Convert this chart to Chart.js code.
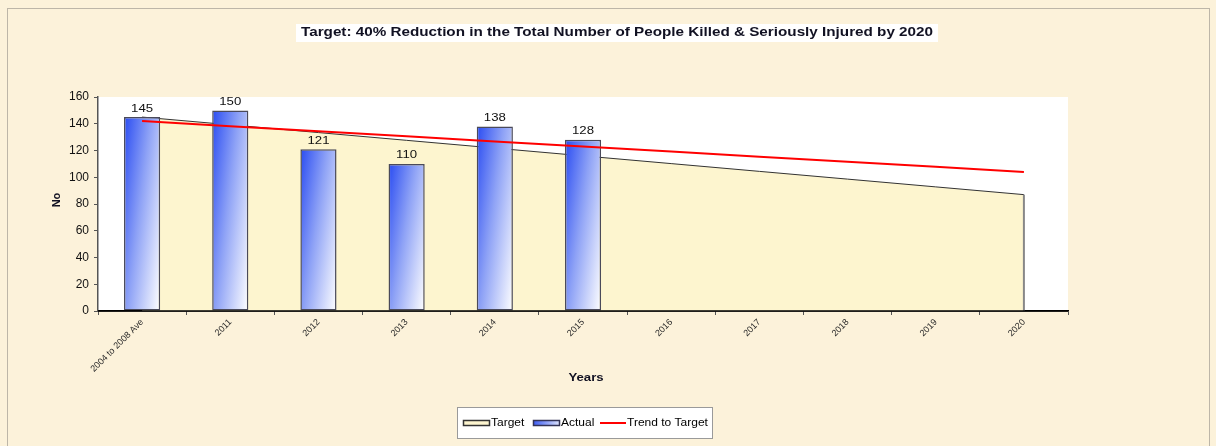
<!DOCTYPE html>
<html>
<head>
<meta charset="utf-8">
<script src="https://cdn.jsdelivr.net/npm/chart.js@4/dist/chart.umd.min.js"></script>
<style>
html,body{margin:0;padding:0;background:#fcf2da;}
#wrap{position:relative;width:1216px;height:446px;}
</style>
</head>
<body>
<div id="wrap"><canvas id="c" width="1216" height="446"></canvas></div>
<script>
const categories = ['2004 to 2008 Ave','2011','2012','2013','2014','2015','2016','2017','2018','2019','2020'];
const actual = [145, 150, 121, 110, 138, 128, null, null, null, null, null];
const target = [145, 139.2, 133.4, 127.6, 121.8, 116, 110.2, 104.4, 98.6, 92.8, 87];
const trend = [142, 138.2, 134.4, 130.6, 126.8, 123, 119.2, 115.4, 111.6, 107.8, 104];
const yTicks = [0, 20, 40, 60, 80, 100, 120, 140, 160];
const titleText = 'Target: 40% Reduction in the Total Number of People Killed & Seriously Injured by 2020';
const FONT = '"Liberation Sans", Arial, sans-serif';

function barGradient(ctx) {
  const chart = ctx.chart;
  if (!chart.chartArea || ctx.type !== 'data') return '#6f86f5';
  const xs = chart.scales.x, ys = chart.scales.y;
  const v = ctx.raw;
  if (v == null) return '#6f86f5';
  const cx = xs.getPixelForValue(ctx.dataIndex);
  const w = 36;
  const top = ys.getPixelForValue(v), base = ys.getPixelForValue(0);
  const h = Math.max(1, base - top);
  const a = 0.6, b = 0.4;
  const ux = a / w, uy = b / h;
  const n2 = ux * ux + uy * uy;
  const vx = ux / n2, vy = uy / n2;
  const x0 = cx - w / 2, y0 = top;
  const g = chart.ctx.createLinearGradient(x0, y0, x0 + vx, y0 + vy);
  g.addColorStop(0, '#2a4cf2');
  g.addColorStop(0.45, '#8ea2f6');
  g.addColorStop(1, '#ffffff');
  return g;
}

// draw text stretched horizontally (reference is horizontally stretched)
function sText(c, txt, x, y, sx) {
  c.save();
  c.translate(x, y);
  c.scale(sx, 1);
  c.fillText(txt, 0, 0);
  c.restore();
}

const decor = {
  id: 'decor',
  beforeDraw(chart) {
    const c = chart.ctx, a = chart.chartArea;
    c.save();
    c.fillStyle = '#fcf2da';
    c.fillRect(0, 0, chart.width, chart.height);
    c.strokeStyle = '#bdb6a8';
    c.lineWidth = 1;
    c.strokeRect(7.5, 8.5, 1202, 440);
    c.fillStyle = '#ffffff';
    c.fillRect(a.left, a.top, a.right - a.left, a.bottom - a.top);
    // title
    c.font = 'bold 12px ' + FONT;
    const sx = 1.27;
    const tw = c.measureText(titleText).width * sx;
    const tx = 617;
    c.fillStyle = '#ffffff';
    c.fillRect(tx - tw / 2 - 5, 24, tw + 10, 18);
    c.fillStyle = '#111122';
    c.textAlign = 'center';
    c.textBaseline = 'middle';
    sText(c, titleText, tx, 33, sx);
    c.restore();
  },
  afterDraw(chart) {
    const c = chart.ctx, a = chart.chartArea;
    const xs = chart.scales.x, ys = chart.scales.y;
    c.save();
    // right edge of the target area
    const xe = xs.getPixelForValue(target.length - 1);
    c.strokeStyle = '#888888';
    c.lineWidth = 2;
    c.beginPath(); c.moveTo(xe, ys.getPixelForValue(target[target.length - 1])); c.lineTo(xe, a.bottom); c.stroke();
    // x axis line on top
    c.strokeStyle = '#000000';
    c.lineWidth = 1.5;
    c.beginPath(); c.moveTo(a.left, a.bottom); c.lineTo(a.right, a.bottom); c.stroke();
    // data labels
    c.font = '11px ' + FONT;
    c.fillStyle = '#111111';
    c.textAlign = 'center';
    c.textBaseline = 'bottom';
    actual.forEach((v, i) => {
      if (v == null) return;
      sText(c, String(v), xs.getPixelForValue(i), ys.getPixelForValue(v) - 3, 1.2);
    });
    // axis titles
    c.font = 'bold 11px ' + FONT;
    c.fillStyle = '#111122';
    c.textBaseline = 'middle';
    sText(c, 'Years', 586, 378, 1.2);
    c.save();
    c.translate(57, 200);
    c.rotate(-Math.PI / 2);
    c.fillText('No', 0, 0);
    c.restore();
    // legend
    c.fillStyle = '#ffffff';
    c.fillRect(457, 407, 256, 32);
    c.strokeStyle = '#9a9a9a';
    c.lineWidth = 1;
    c.strokeRect(457.5, 407.5, 255, 31);
    const ly = 423;
    c.font = '10px ' + FONT;
    c.textAlign = 'left';
    c.fillStyle = '#fdf5cf';
    c.fillRect(463, ly - 3, 27, 6);
    c.strokeStyle = '#333333';
    c.lineWidth = 1.5;
    c.strokeRect(463.5, ly - 2.5, 26, 5);
    c.fillStyle = '#000000';
    sText(c, 'Target', 491, ly, 1.2);
    const lg = c.createLinearGradient(533, 0, 560, 0);
    lg.addColorStop(0, '#3a5af2'); lg.addColorStop(1, '#dfe5fd');
    c.fillStyle = lg;
    c.fillRect(533, ly - 3, 27, 6);
    c.strokeStyle = '#333355';
    c.strokeRect(533.5, ly - 2.5, 26, 5);
    c.fillStyle = '#000000';
    sText(c, 'Actual', 561, ly, 1.2);
    c.strokeStyle = '#ff0000';
    c.lineWidth = 2;
    c.beginPath(); c.moveTo(600, ly); c.lineTo(626, ly); c.stroke();
    sText(c, 'Trend to Target', 627, ly, 1.2);
    c.restore();
  }
};

new Chart(document.getElementById('c'), {
  type: 'bar',
  data: {
    labels: categories,
    datasets: [
      {
        type: 'line', label: 'Trend to Target', data: trend,
        borderColor: '#ff0000', borderWidth: 2, pointRadius: 0, fill: false,
        tension: 0, order: 0
      },
      {
        type: 'bar', label: 'Actual', data: actual,
        backgroundColor: barGradient, borderColor: '#4a4a5a', borderWidth: 1.5,
        borderSkipped: false, barPercentage: 0.41, categoryPercentage: 1, order: 1
      },
      {
        type: 'line', label: 'Target', data: target,
        borderColor: '#333333', borderWidth: 1, pointRadius: 0,
        backgroundColor: '#fdf5cf', fill: 'origin', tension: 0, order: 2
      }
    ]
  },
  options: {
    responsive: false,
    animation: false,
    devicePixelRatio: 1,
    layout: { padding: { left: 0, top: 97, right: 148, bottom: 0 } },
    plugins: { legend: { display: false }, tooltip: { enabled: false }, title: { display: false } },
    scales: {
      x: {
        offset: true,
        afterFit: (s) => { s.height = 135; },
        grid: { display: true, drawOnChartArea: false, offset: true, tickLength: 4, color: '#555555' },
        border: { display: true, color: '#000000', width: 1.5 },
        ticks: {
          minRotation: 45, maxRotation: 45, autoSkip: false, padding: 2,
          font: { family: FONT, size: 9 }, color: '#2a2a2a'
        }
      },
      y: {
        min: 0, max: 160,
        afterFit: (s) => { s.width = 98; },
        afterBuildTicks: (s) => { s.ticks = yTicks.map(v => ({ value: v })); },
        grid: { display: true, drawOnChartArea: false, tickLength: 4, color: '#555555' },
        border: { display: true, color: '#555555', width: 1.5 },
        ticks: {
          padding: 5,
          font: { family: FONT, size: 12 }, color: '#111111'
        }
      }
    }
  },
  plugins: [decor]
});
</script>
</body>
</html>
